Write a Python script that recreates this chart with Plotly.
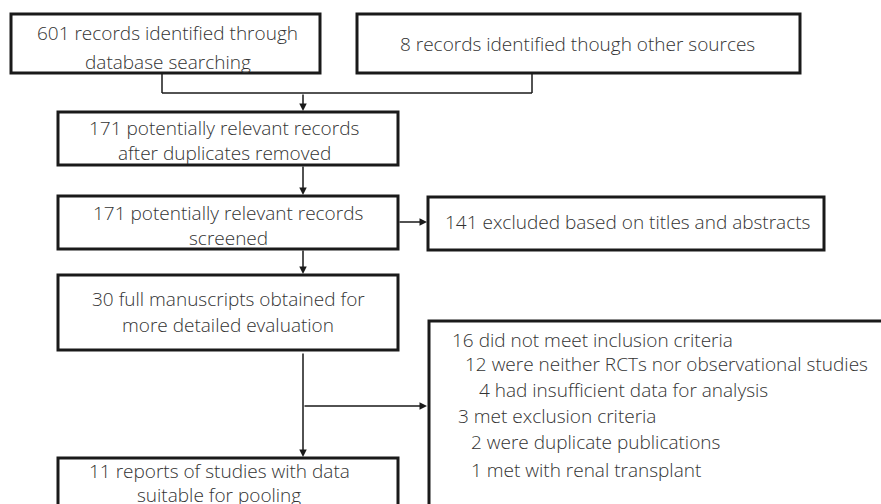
import plotly.graph_objects as go

# ---- content ----
box_texts = {
    "db": ["601 records identified through", "database searching"],
    "other": ["8 records identified though other sources"],
    "dedup": ["171 potentially relevant records", "after duplicates removed"],
    "screen": ["171 potentially relevant records", "screened"],
    "excl1": ["141 excluded based on titles and abstracts"],
    "full": ["30 full manuscripts obtained for", "more detailed evaluation"],
    "final": ["11 reports of studies with data", "suitable for pooling"],
    "excl2": [
        "16 did not meet inclusion criteria",
        "12 were neither RCTs nor observational studies",
        "4 had insufficient data for analysis",
        "3 met exclusion criteria",
        "2 were duplicate publications",
        "1 met with renal transplant",
    ],
}

# ---- layout geometry (pixels, y downwards) ----
boxes = {
    "db": (11, 14, 320, 73),
    "other": (357, 14, 800, 73),
    "dedup": (58, 112, 398, 165),
    "screen": (58, 196, 398, 249),
    "excl1": (428, 197, 824, 250),
    "full": (58, 275, 398, 350),
    "final": (58, 458, 398, 520),
    "excl2": (429, 321, 900, 520),
}
text_pos = {
    "db": [(167, 33), (168, 62)],
    "other": [(577, 44)],
    "dedup": [(224, 128), (224, 153)],
    "screen": [(228, 213), (228, 238)],
    "excl1": [(443, 222)],
    "full": [(228, 299), (228, 325)],
    "final": [(219, 471), (219, 495)],
    "excl2": [(450, 340), (463, 364), (477, 390), (456, 416), (469, 442), (469, 470)],
}
left_anchor = {"excl1", "excl2"}

fig = go.Figure()
shapes = []
annotations = []
FONT = dict(family="Open Sans", size=19, color="#333333", weight=300)

for key, (x0, y0, x1, y1) in boxes.items():
    shapes.append(dict(type="rect", x0=x0, y0=y0, x1=x1, y1=y1,
                       line=dict(color="#1a1a1a", width=3), fillcolor="white", layer="above"))
    for line, (tx, ty) in zip(box_texts[key], text_pos[key]):
        annotations.append(dict(x=tx, y=ty, text=line, showarrow=False,
                                xanchor="left" if key in left_anchor else "center",
                                yanchor="middle", font=FONT))

LW = 1.5
LC = "#1a1a1a"

def seg(x0, y0, x1, y1):
    shapes.append(dict(type="line", x0=x0, y0=y0, x1=x1, y1=y1,
                       line=dict(color=LC, width=LW), layer="above"))

def arrow(x0, y0, x1, y1):
    annotations.append(dict(x=x1, y=y1, ax=x0, ay=y0, xref="x", yref="y",
                            axref="x", ayref="y", text="", showarrow=True,
                            arrowhead=2, arrowsize=1.0, arrowwidth=LW, arrowcolor=LC,
                            standoff=0))

# merge of the two source boxes
seg(162, 73, 162, 93)
seg(532, 73, 532, 93)
seg(162, 93, 532, 93)
arrow(303, 93, 303, 111)
# dedup -> screen
arrow(303, 165, 303, 195)
# screen -> excluded
arrow(398, 222, 427, 222)
# screen -> full
arrow(303, 249, 303, 274)
# full -> final
arrow(303, 352, 303, 457)
# branch -> excluded 2
arrow(303, 406, 427, 406)

fig.update_layout(
    width=881, height=504,
    margin=dict(l=0, r=0, t=0, b=0),
    paper_bgcolor="white", plot_bgcolor="white",
    xaxis=dict(range=[0, 881], visible=False, fixedrange=True),
    yaxis=dict(range=[504, 0], visible=False, fixedrange=True),
    shapes=shapes, annotations=annotations, showlegend=False,
)
fig.write_html("out.html", config={"displayModeBar": False},
               post_script="document.body.style.margin='0';document.body.style.overflow='hidden';")
